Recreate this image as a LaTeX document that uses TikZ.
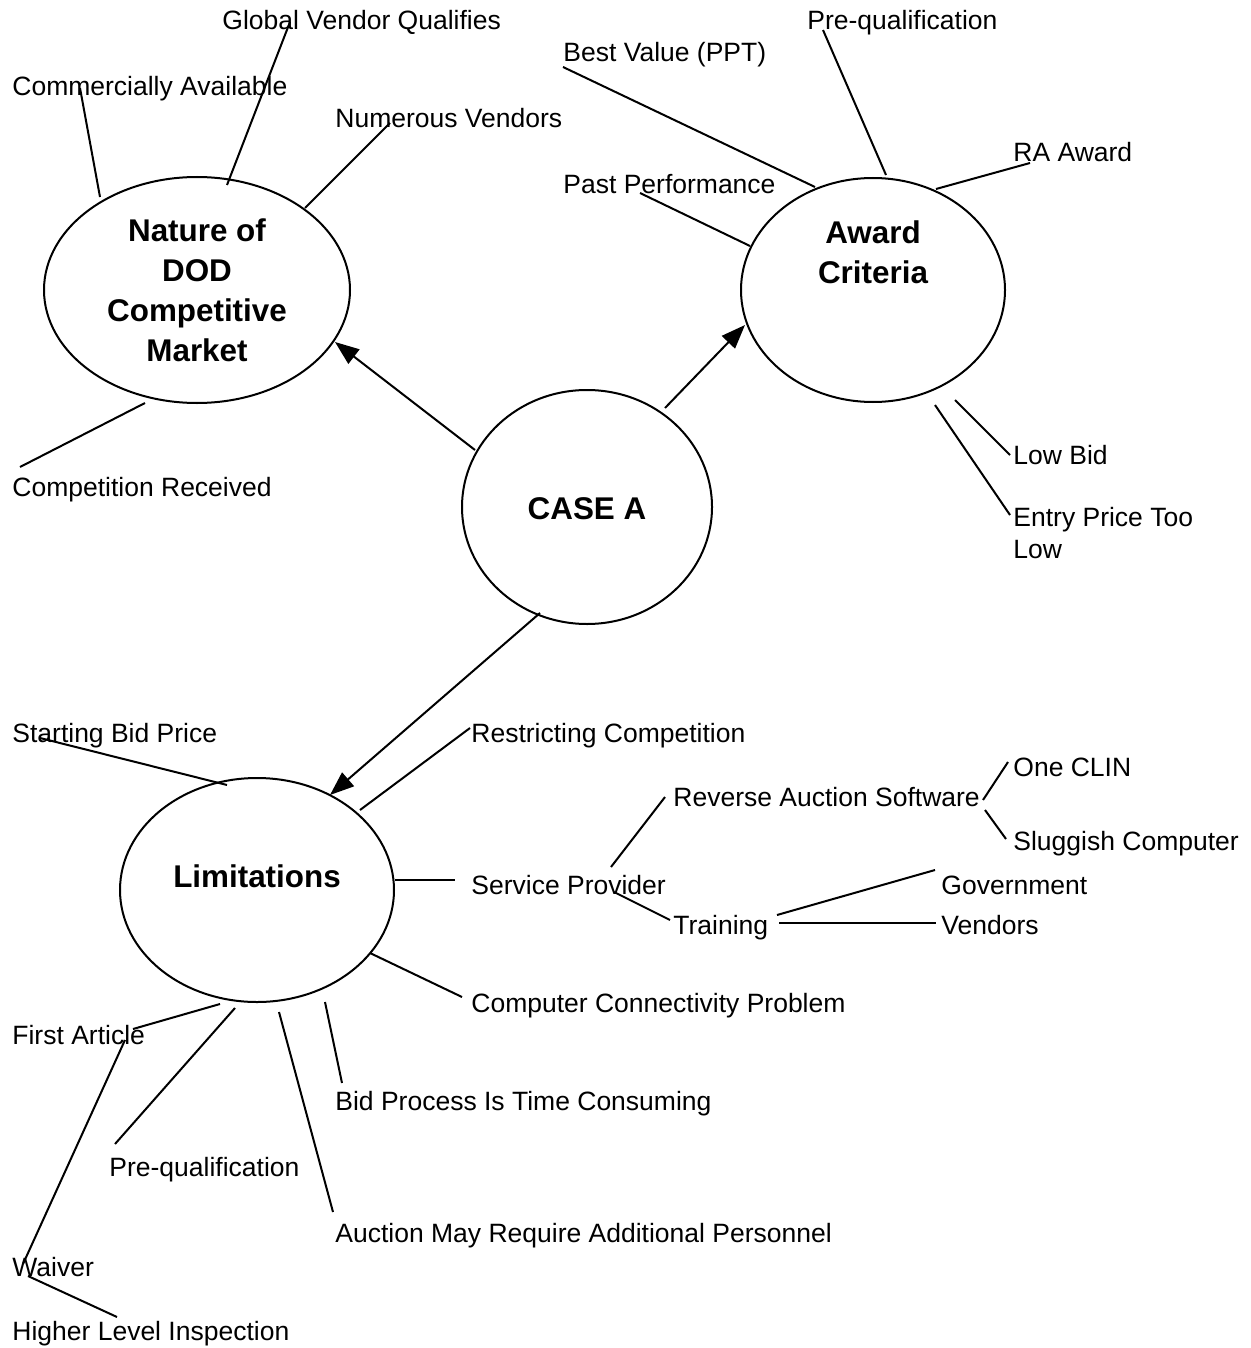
\documentclass[tikz,border=0pt]{standalone}
\usepackage{fontspec}
\setmainfont{Liberation Sans}
\usetikzlibrary{shapes.geometric,arrows.meta}
\begin{document}
\begin{tikzpicture}[x=0.5pt,y=-0.5pt,
  lbl/.style={anchor=base west,inner sep=0pt,font=\fontsize{13.25}{16}\selectfont},
  ttl/.style={inner sep=0pt,align=center,font=\fontsize{15.7}{20}\selectfont\bfseries},
  oval/.style={draw,ellipse,inner sep=0pt,line width=1pt},
  spoke/.style={line width=1pt},
  arr/.style={line width=1pt,-{Triangle[length=12pt,width=9pt]}}]
\useasboundingbox (0,0) rectangle (1251,1348);

% main ellipses
\node[oval,minimum width=153pt,minimum height=113pt] (nature) at (197,290) {};
\node[oval,minimum width=132pt,minimum height=112pt] (award) at (873,290) {};
\node[oval,minimum width=125pt,minimum height=117pt] (casea) at (587,507) {};
\node[oval,minimum width=137pt,minimum height=112pt] (limit) at (257,890) {};

% titles
\node[ttl] (natureT) at (197,290) {Nature of\\DOD\\Competitive\\Market};
\node[ttl] (awardT) at (873,252) {Award\\Criteria};
\node[ttl] (caseaT) at (587,509) {CASE A};
\node[ttl] (limitT) at (257,876) {Limitations};

% arrows
\coordinate (arN0) at (475,450); \coordinate (arN1) at (335,342);
\coordinate (arA0) at (665,408); \coordinate (arA1) at (745,325);
\coordinate (arL0) at (540,613); \coordinate (arL1) at (330,795);
\draw[arr] (arN0) -- (arN1);
\draw[arr] (arA0) -- (arA1);
\draw[arr] (arL0) -- (arL1);

% labels: nature
\node[lbl] (gvq) at (222,30) {Global Vendor Qualifies};
\node[lbl] (comm) at (12,96) {Commercially Available};
\node[lbl] (numv) at (335,128) {Numerous Vendors};
\node[lbl] (comp) at (12,496) {Competition Received};
% labels: award
\node[lbl] (bestv) at (563,62) {Best Value (PPT)};
\node[lbl] (preqA) at (807,30) {Pre-qualification};
\node[lbl] (raaw) at (1013,162) {RA Award};
\node[lbl] (pastp) at (563,194) {Past Performance};
\node[lbl] (lowb) at (1013,464) {Low Bid};
\node[anchor=west,inner sep=0pt,align=left,font=\fontsize{13.25}{16}\selectfont] (entry) at (1013,533) {Entry Price Too\\Low};
% labels: limitations
\node[lbl] (sbp) at (12,742) {Starting Bid Price};
\node[lbl] (restr) at (471,742) {Restricting Competition};
\node[lbl] (servp) at (471,894) {Service Provider};
\node[lbl] (ras) at (673,806) {Reverse Auction Software};
\node[lbl] (train) at (673,934) {Training};
\node[lbl] (gov) at (941,894) {Government};
\node[lbl] (vend) at (941,934) {Vendors};
\node[lbl] (oclin) at (1013,776) {One CLIN};
\node[lbl] (slug) at (1013,850) {Sluggish Computer};
\node[lbl] (ccp) at (471,1012) {Computer Connectivity Problem};
\node[lbl] (bidp) at (335,1110) {Bid Process Is Time Consuming};
\node[lbl] (amra) at (335,1242) {Auction May Require Additional Personnel};
\node[lbl] (preqL) at (109,1176) {Pre-qualification};
\node[lbl] (fart) at (12,1044) {First Article};
\node[lbl] (waiv) at (12,1276) {Waiver};
\node[lbl] (hli) at (12,1340) {Higher Level Inspection};

% spoke end points
\coordinate (n1a) at (100,197); \coordinate (n1b) at (80,88);
\coordinate (n2a) at (227,185); \coordinate (n2b) at (290,22);
\coordinate (n3a) at (305,208); \coordinate (n3b) at (390,123);
\coordinate (n4a) at (145,403); \coordinate (n4b) at (20,467);

\coordinate (a1a) at (815,187); \coordinate (a1b) at (563,67);
\coordinate (a2a) at (886,175); \coordinate (a2b) at (823,30);
\coordinate (a3a) at (936,189); \coordinate (a3b) at (1030,163);
\coordinate (a4a) at (750,246); \coordinate (a4b) at (640,193);
\coordinate (a5a) at (955,400); \coordinate (a5b) at (1010,455);
\coordinate (a6a) at (935,405); \coordinate (a6b) at (1010,515);

\coordinate (l1a) at (227,785); \coordinate (l1b) at (40,738);
\coordinate (l2a) at (360,810); \coordinate (l2b) at (470,728);
\coordinate (l3a) at (395,880); \coordinate (l3b) at (455,880);
\coordinate (l4a) at (370,953); \coordinate (l4b) at (462,997);
\coordinate (l5a) at (325,1002); \coordinate (l5b) at (342,1083);
\coordinate (l6a) at (279,1012); \coordinate (l6b) at (333,1212);
\coordinate (l7a) at (235,1008); \coordinate (l7b) at (115,1144);
\coordinate (l8a) at (220,1004); \coordinate (l8b) at (133,1029);
\coordinate (w1a) at (125,1040); \coordinate (w1b) at (23,1264);
\coordinate (h1a) at (28,1276); \coordinate (h1b) at (117,1317);

\coordinate (s1a) at (611,867); \coordinate (s1b) at (665,797);
\coordinate (s2a) at (614,892); \coordinate (s2b) at (670,920);
\coordinate (t1a) at (777,915); \coordinate (t1b) at (935,870);
\coordinate (t2a) at (779,923); \coordinate (t2b) at (936,923);
\coordinate (r1a) at (983,800); \coordinate (r1b) at (1008,762);
\coordinate (r2a) at (985,810); \coordinate (r2b) at (1006,839);

\foreach \p in {n1,n2,n3,n4,a1,a2,a3,a4,a5,a6,l1,l2,l3,l4,l5,l6,l7,l8,w1,h1,s1,s2,t1,t2,r1,r2}
  \draw[spoke] (\p a) -- (\p b);
\end{tikzpicture}
\end{document}
